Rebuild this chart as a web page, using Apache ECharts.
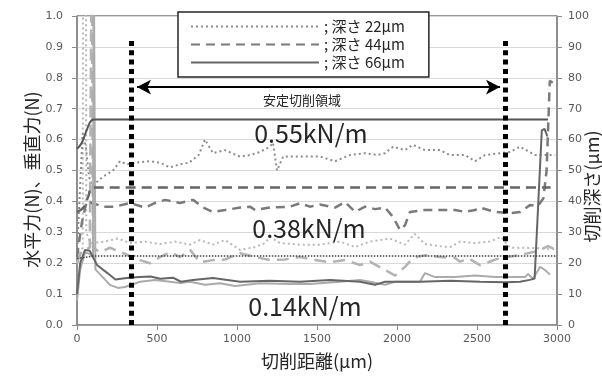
<!DOCTYPE html>
<html>
<head>
<meta charset="utf-8">
<script src="https://cdn.jsdelivr.net/npm/echarts@6/dist/echarts.min.js"></script>
<style>
  html, body { margin: 0; padding: 0; background: #fff; }
  #chart { width: 602px; height: 377px; }
</style>
</head>
<body>
<div id="chart"></div>
<script>
// 切削距離(μm) vs 力(N) ; depth lines on the right axis
const forceTicks = [0, 1.0, 0.1]
const depthTicks = [0, 100, 10]
const distTicks = [0, 3000, 500]

// dotted = 深さ 22μm
const dot22Light = [[0, 0.20], [20, 0.24], [36, 0.25], [38, 1.3], [56, 1.3], [58, 0.30], [80, 0.27], [94, 0.265], [175, 0.27], [256, 0.28], [331, 0.265], [425, 0.27], [519, 0.262], [613, 0.27], [706, 0.26], [769, 0.275], [850, 0.26], [925, 0.275], [1019, 0.243], [1113, 0.252], [1175, 0.265], [1206, 0.285], [1269, 0.265], [1394, 0.26], [1519, 0.26], [1644, 0.27], [1738, 0.252], [1831, 0.27], [1956, 0.28], [2050, 0.26], [2110, 0.295], [2175, 0.262], [2269, 0.255], [2331, 0.252], [2394, 0.27], [2488, 0.265], [2581, 0.27], [2650, 0.285], [2706, 0.25], [2800, 0.25], [2894, 0.248], [2988, 0.245]]
const dot22Dark = [[0, 0.23], [15, 0.40], [35, 0.62], [55, 0.58], [75, 0.48], [94, 0.45], [163, 0.48], [225, 0.50], [269, 0.53], [310, 0.52], [363, 0.525], [456, 0.53], [519, 0.525], [581, 0.51], [644, 0.52], [700, 0.525], [760, 0.55], [800, 0.60], [850, 0.556], [925, 0.566], [1019, 0.545], [1081, 0.55], [1144, 0.56], [1206, 0.577], [1225, 0.59], [1250, 0.50], [1288, 0.545], [1394, 0.545], [1519, 0.545], [1613, 0.53], [1706, 0.55], [1800, 0.556], [1875, 0.55], [1925, 0.556], [1975, 0.577], [2050, 0.566], [2100, 0.583], [2175, 0.566], [2269, 0.566], [2331, 0.55], [2425, 0.55], [2488, 0.53], [2550, 0.55], [2644, 0.556], [2706, 0.56], [2769, 0.577], [2863, 0.55], [2988, 0.55]]
// dashed = 深さ 44μm
const dash44Light = [[0, 0.20], [30, 0.24], [80, 0.25], [92, 1.3], [97, 1.3], [100, 0.25], [144, 0.236], [206, 0.25], [394, 0.21], [456, 0.20], [519, 0.22], [581, 0.236], [644, 0.22], [706, 0.243], [769, 0.203], [850, 0.21], [925, 0.212], [1019, 0.232], [1113, 0.22], [1206, 0.21], [1300, 0.212], [1394, 0.22], [1488, 0.21], [1581, 0.203], [1675, 0.21], [1769, 0.194], [1831, 0.205], [1925, 0.178], [1988, 0.16], [2050, 0.188], [2100, 0.217], [2175, 0.226], [2269, 0.22], [2363, 0.217], [2394, 0.205], [2450, 0.215], [2519, 0.194], [2644, 0.217], [2769, 0.226], [2850, 0.236], [2894, 0.243], [2944, 0.255], [2988, 0.245]]
const dash44Dark = [[0, 0.22], [30, 0.33], [60, 0.40], [94, 0.395], [163, 0.383], [238, 0.383], [331, 0.395], [425, 0.38], [488, 0.395], [550, 0.405], [644, 0.395], [725, 0.405], [788, 0.38], [850, 0.366], [925, 0.372], [1019, 0.38], [1081, 0.383], [1113, 0.372], [1206, 0.38], [1331, 0.383], [1394, 0.394], [1456, 0.383], [1519, 0.39], [1613, 0.38], [1675, 0.398], [1738, 0.366], [1800, 0.383], [1863, 0.375], [1925, 0.38], [1975, 0.35], [2019, 0.307], [2050, 0.323], [2081, 0.366], [2175, 0.372], [2269, 0.372], [2363, 0.372], [2425, 0.366], [2488, 0.372], [2519, 0.38], [2613, 0.366], [2706, 0.362], [2769, 0.366], [2831, 0.388], [2880, 0.385], [2915, 0.41], [2935, 0.50], [2955, 0.79], [2985, 0.78]]
// solid = 深さ 66μm
const solid66Light = [[0, 0.08], [20, 0.18], [50, 0.235], [80, 0.23], [100, 0.22], [104, 1.3], [112, 1.3], [115, 0.18], [206, 0.13], [256, 0.12], [300, 0.123], [394, 0.14], [488, 0.146], [581, 0.14], [644, 0.136], [706, 0.14], [800, 0.13], [894, 0.135], [988, 0.126], [1144, 0.135], [1331, 0.133], [1456, 0.133], [1644, 0.14], [1769, 0.146], [1831, 0.14], [1925, 0.13], [1988, 0.14], [2144, 0.14], [2175, 0.168], [2238, 0.155], [2363, 0.155], [2488, 0.16], [2613, 0.155], [2706, 0.155], [2800, 0.155], [2819, 0.165], [2850, 0.15], [2894, 0.188], [2925, 0.178], [2956, 0.163]]
const solid66Dark = [[0, 0.10], [20, 0.20], [50, 0.243], [80, 0.24], [125, 0.194], [190, 0.168], [240, 0.147], [310, 0.152], [390, 0.155], [460, 0.157], [520, 0.15], [600, 0.153], [650, 0.14], [725, 0.146], [850, 0.152], [1019, 0.14], [1206, 0.143], [1394, 0.14], [1581, 0.146], [1769, 0.14], [1863, 0.13], [1925, 0.14], [2144, 0.14], [2331, 0.143], [2519, 0.14], [2675, 0.138], [2769, 0.14], [2830, 0.146], [2860, 0.15], [2905, 0.63], [2922, 0.635], [2940, 0.61]]

// depth profiles (μm)
const depth22 = [[0, 21.5], [100, 22.3], [3000, 22.3]]
const depth44 = [[0, 36.6], [40, 38], [70, 41.5], [100, 44.5], [2960, 44.5]]
const depth66 = [[0, 57], [30, 59], [60, 63], [90, 66.2], [110, 66.5], [2944, 66.5]]

// stable cutting region
const stableStart = 340
const stableEnd = 2675
const regionTop = 0.93
const arrowSpan = [375, 2644]
const arrowLevel = 0.77
const regionLabel = ['安定切削領域', 1406, 0.728]
const stiffLabels = [['0.55kN/m', 1462, 0.62], ['0.38kN/m', 1450, 0.311], ['0.14kN/m', 1425, 0.061]]

const legendNames = ['; 深さ 22μm', '; 深さ 44μm', '; 深さ 66μm']

const fontJP = '"Noto Sans CJK JP", sans-serif'
const fontNum = '"DejaVu Sans", sans-serif'
const labelGray = '#595959'
const axisGray = '#8c8c8c'

function forceLine(name, data, color, width, type) {
  return {
    name: name,
    type: 'line',
    data: data,
    symbol: 'none',
    yAxisIndex: 0,
    lineStyle: { color: color, width: width, type: type },
    itemStyle: { color: color },
    z: 3
  }
}

function depthLine(name, data, color, width, type, smooth) {
  return {
    name: name,
    type: 'line',
    data: data,
    symbol: 'none',
    smooth: smooth,
    yAxisIndex: 1,
    lineStyle: { color: color, width: width, type: type },
    z: 4
  }
}

const chart = echarts.init(document.getElementById('chart'))

chart.setOption({
  animation: false,
  backgroundColor: '#fff',
  grid: {
    left: 77,
    right: 45,
    top: 16,
    bottom: 52,
    outerBoundsMode: 'none',
    containLabel: false,
    show: true,
    borderColor: '#333',
    borderWidth: 1
  },
  legend: {
    data: legendNames,
    orient: 'vertical',
    left: 178,
    top: 12,
    itemWidth: 128,
    itemHeight: 14,
    itemGap: 3,
    padding: [7, 24, 7, 12],
    borderColor: '#262626',
    borderWidth: 1.5,
    backgroundColor: '#fff',
    selectedMode: false,
    itemStyle: { opacity: 0 },
    textStyle: { fontFamily: fontJP, fontSize: 15, color: '#262626' }
  },
  xAxis: {
    type: 'value',
    min: distTicks[0],
    max: distTicks[1],
    interval: distTicks[2],
    name: '切削距離(μm)',
    nameLocation: 'middle',
    nameGap: 27,
    nameMoveOverlap: false,
    nameTextStyle: { fontFamily: fontJP, fontSize: 18, color: '#262626' },
    axisLine: { lineStyle: { color: axisGray, width: 1.5 } },
    axisTick: { show: true, length: 5, lineStyle: { color: axisGray } },
    axisLabel: { fontFamily: fontNum, fontSize: 11, color: labelGray, margin: 9, formatter: v => String(v) },
    splitLine: { show: false }
  },
  yAxis: [
    {
      type: 'value',
      min: forceTicks[0],
      max: forceTicks[1],
      interval: forceTicks[2],
      name: '水平力(N)、垂直力(N)',
      nameLocation: 'middle',
      nameGap: 36,
      nameMoveOverlap: false,
      nameTextStyle: { fontFamily: fontJP, fontSize: 18, color: '#262626', padding: [0, 18, 0, 0] },
      axisLine: { show: true, lineStyle: { color: axisGray, width: 1.5 } },
      axisTick: { show: true, length: 5, lineStyle: { color: axisGray } },
      axisLabel: {
        fontFamily: fontNum, fontSize: 11, color: labelGray, margin: 14,
        formatter: v => v.toFixed(1)
      },
      splitLine: { show: true, lineStyle: { color: '#d9d9d9', width: 1 } }
    },
    {
      type: 'value',
      position: 'right',
      min: depthTicks[0],
      max: depthTicks[1],
      interval: depthTicks[2],
      name: '切削深さ(μm)',
      nameLocation: 'middle',
      nameGap: 26,
      nameMoveOverlap: false,
      nameTextStyle: { fontFamily: fontJP, fontSize: 18, color: '#262626', padding: [0, 32, 0, 0] },
      axisLine: { show: true, lineStyle: { color: axisGray, width: 1.5 } },
      axisTick: { show: true, length: 5, lineStyle: { color: axisGray } },
      axisLabel: { fontFamily: fontNum, fontSize: 11, color: labelGray, margin: 11 },
      splitLine: { show: false }
    }
  ],
  series: [
    forceLine('h22', dot22Light, '#b8b8b8', 2, [2, 3]),
    forceLine(legendNames[0], dot22Dark, '#8c8c8c', 2, [2, 3]),
    forceLine('h44', dash44Light, '#b3b3b3', 2.5, [12, 7]),
    forceLine(legendNames[1], dash44Dark, '#7a7a7a', 2.5, [9, 6]),
    forceLine('h66', solid66Light, '#ababab', 2, 'solid'),
    forceLine(legendNames[2], solid66Dark, '#666666', 2, 'solid'),
    depthLine('d22', depth22, '#404040', 1.5, [1.5, 1.5], false),
    depthLine('d44', depth44, '#666666', 2.5, [10, 6], true),
    depthLine('d66', depth66, '#555555', 2, 'solid', true),
    {
      name: 'region',
      type: 'line',
      data: [],
      yAxisIndex: 0,
      z: 10,
      markLine: {
        silent: true,
        symbol: 'none',
        label: { show: false },
        lineStyle: { color: '#000', width: 5, type: [5, 4.3] },
        data: [
          [{ coord: [stableStart, 0] }, { coord: [stableStart, regionTop] }],
          [{ coord: [stableEnd, 0] }, { coord: [stableEnd, regionTop] }]
        ]
      }
    },
    {
      name: 'arrow',
      type: 'line',
      data: [],
      yAxisIndex: 0,
      z: 10,
      markLine: {
        silent: true,
        symbol: ['arrow', 'arrow'],
        symbolSize: [11, 14],
        label: { show: false },
        lineStyle: { color: '#000', width: 2, type: 'solid' },
        data: [
          [{ coord: [arrowSpan[0], arrowLevel] }, { coord: [arrowSpan[1], arrowLevel] }]
        ]
      },
      markPoint: {
        silent: true,
        symbol: 'circle',
        symbolSize: 0,
        data: [
          {
            name: regionLabel[0], coord: [regionLabel[1], regionLabel[2]],
            label: { show: true, position: 'inside', formatter: '{b}', fontFamily: fontJP, fontSize: 13, color: '#262626' }
          }
        ].concat(stiffLabels.map(s => ({
          name: s[0], coord: [s[1], s[2]],
          label: { show: true, position: 'inside', formatter: '{b}', fontFamily: fontJP, fontSize: 25, color: '#262626' }
        })))
      }
    }
  ]
})
</script>
</body>
</html>
